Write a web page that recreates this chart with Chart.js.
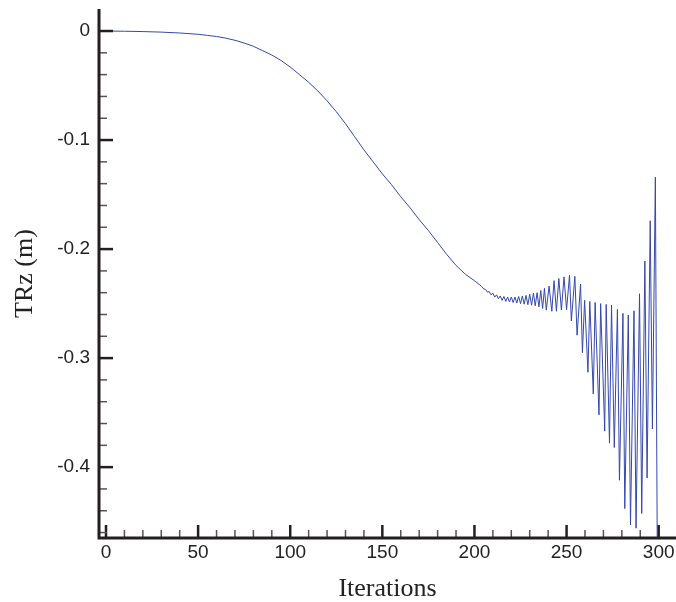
<!DOCTYPE html>
<html>
<head>
<meta charset="utf-8">
<script src="https://cdn.jsdelivr.net/npm/chart.js@4.4.1/dist/chart.umd.min.js"></script>
<style>
  html, body { margin: 0; padding: 0; background: #fff; }
  #wrap { width: 676px; height: 602px; position: relative; }
</style>
</head>
<body>
<div id="wrap"><canvas id="myChart"></canvas></div>
<script>
// vertices of the TRz history (iteration, value in m)
var iterations = [
  0, 10, 20, 30, 40, 50, 55, 60, 65, 70, 75, 80, 85, 90, 95, 100, 105, 110, 115, 120,
  125, 130, 135, 140, 145, 150, 155, 160, 165, 170, 175, 180, 185, 190, 195, 200, 203,
  204, 205, 206, 207, 208, 209, 210, 211, 212, 213, 214, 215, 216, 217, 218, 219, 220,
  221, 222, 223, 224, 225, 226, 227, 228, 229, 230, 231, 232, 233, 234, 235, 236, 237,
  238, 239, 240.5, 242, 243.2, 244.5, 245.8, 247.2, 248.6, 250, 251.6,
  252.6, 254.5, 255.7, 257.6, 258.6, 259.8, 261.6, 262.6, 264.5, 265.5, 267.6, 268.5,
  270.7, 271.5, 273.3, 274.4, 275.9, 277.6, 278.7, 280.6, 281.6, 283.5, 284.7, 286.6,
  287.7, 289.6, 290.8, 292.5, 293.7, 295.4, 296.6, 298.2, 299.3
];
var trz = [
  0, -0.0002, -0.0005, -0.001, -0.0018, -0.003, -0.004, -0.005, -0.0065, -0.0085, -0.011,
  -0.014, -0.018, -0.022, -0.027, -0.033, -0.040, -0.047, -0.055, -0.064,
  -0.074, -0.085, -0.097, -0.109, -0.120, -0.131, -0.141, -0.152, -0.162, -0.173, -0.183,
  -0.194, -0.205, -0.215, -0.223, -0.229, -0.233,
  -0.2345, -0.2365, -0.2370, -0.2395, -0.2390, -0.2420, -0.2405, -0.2440, -0.2420, -0.2455,
  -0.2430, -0.2470, -0.2435, -0.2480, -0.2440, -0.2485, -0.2440, -0.2490, -0.2440, -0.2495,
  -0.2435, -0.2500, -0.2430, -0.2505, -0.2425, -0.2510, -0.2415, -0.2515, -0.2405, -0.2520,
  -0.2400, -0.2530, -0.2380, -0.2545, -0.2360, -0.2560, -0.234, -0.257, -0.229, -0.257,
  -0.227, -0.256, -0.2255, -0.2555, -0.224,
  -0.266, -0.225, -0.279, -0.232, -0.295, -0.247, -0.313, -0.248, -0.333, -0.249, -0.352,
  -0.250, -0.367, -0.2507, -0.378, -0.2514, -0.382, -0.2553, -0.412, -0.259, -0.438,
  -0.2605, -0.453, -0.2566, -0.456, -0.241, -0.4425, -0.211, -0.410, -0.174, -0.365,
  -0.134, -0.50
];

var xMajorTicks = [0, 50, 100, 150, 200, 250, 300];
var xMinorTicks = [10, 20, 30, 40, 60, 70, 80, 90, 110, 120, 130, 140, 160, 170, 180, 190,
  210, 220, 230, 240, 260, 270, 280, 290];
var yMajorTicks = [0, -0.1, -0.2, -0.3, -0.4];
var yMinorTicks = [-0.02, -0.04, -0.06, -0.08, -0.12, -0.14, -0.16, -0.18, -0.22, -0.24,
  -0.26, -0.28, -0.32, -0.34, -0.36, -0.38, -0.42, -0.44, -0.46];

var axisColor = '#231f20';

// axes drawn by hand: thick frame lines with ticks pointing into the plot
var axisPlugin = {
  id: 'axisPlugin',
  afterDraw: function(chart) {
    var c = chart.ctx, a = chart.chartArea;
    var xs = chart.scales.x, ys = chart.scales.y;
    c.save();
    c.lineCap = 'butt';
    xMinorTicks.forEach(function(v) {
      var px = xs.getPixelForValue(v);
      c.lineWidth = 1.5; c.strokeStyle = '#555';
      c.beginPath(); c.moveTo(px, a.bottom); c.lineTo(px, a.bottom - 8); c.stroke();
    });
    xMajorTicks.forEach(function(v) {
      var px = xs.getPixelForValue(v);
      c.lineWidth = 2.5; c.strokeStyle = axisColor;
      c.beginPath(); c.moveTo(px, a.bottom); c.lineTo(px, a.bottom - 13); c.stroke();
    });
    yMinorTicks.forEach(function(v) {
      var py = ys.getPixelForValue(v);
      c.lineWidth = 1.5; c.strokeStyle = '#555';
      c.beginPath(); c.moveTo(a.left, py); c.lineTo(a.left + 8, py); c.stroke();
    });
    yMajorTicks.forEach(function(v) {
      var py = ys.getPixelForValue(v);
      c.lineWidth = 2.5; c.strokeStyle = axisColor;
      c.beginPath(); c.moveTo(a.left, py); c.lineTo(a.left + 14, py); c.stroke();
    });
    // frame lines
    c.lineWidth = 3; c.strokeStyle = axisColor;
    c.beginPath();
    c.moveTo(a.left, a.top);
    c.lineTo(a.left, a.bottom);
    c.lineTo(a.right, a.bottom);
    c.stroke();
    c.restore();
  }
};

function noPad(s) {
  s.paddingTop = 0; s.paddingBottom = 0; s.paddingLeft = 0; s.paddingRight = 0;
}

var ctx = document.getElementById('myChart').getContext('2d');
var chart = new Chart(ctx, {
  type: 'line',
  data: {
    datasets: [{
      label: 'TRz',
      data: iterations.map(function(x, i) { return { x: x, y: trz[i] }; }),
      borderColor: 'rgb(52, 72, 172)',
      borderWidth: 1,
      pointRadius: 0,
      tension: 0,
      fill: false
    }]
  },
  options: {
    responsive: true,
    maintainAspectRatio: false,
    animation: false,
    layout: { padding: { top: 9, left: 0, right: 0, bottom: 0 } },
    plugins: { legend: { display: false }, tooltip: { enabled: false } },
    scales: {
      x: {
        type: 'linear',
        min: -3.8,
        max: 309.4,
        border: { display: false },
        grid: { display: false, drawTicks: false },
        afterBuildTicks: function(s) { s.ticks = xMajorTicks.map(function(v) { return { value: v }; }); },
        afterFit: function(s) { s.height = 64; noPad(s); },
        ticks: {
          autoSkip: false, maxRotation: 0, padding: 3,
          color: '#222',
          font: { family: 'Liberation Sans, Arial, sans-serif', size: 19 },
          callback: function(v) { return String(v); }
        },
        title: {
          display: true, text: 'Iterations', color: '#222',
          padding: { top: 0, bottom: 0 },
          font: { family: 'Liberation Serif, Times New Roman, serif', size: 26, lineHeight: 1 }
        }
      },
      y: {
        type: 'linear',
        min: -0.465,
        max: 0.0202,
        border: { display: false },
        grid: { display: false, drawTicks: false },
        afterBuildTicks: function(s) { s.ticks = yMajorTicks.map(function(v) { return { value: v }; }); },
        afterFit: function(s) { s.width = 99; noPad(s); },
        ticks: {
          autoSkip: false, padding: 9,
          color: '#222',
          font: { family: 'Liberation Sans, Arial, sans-serif', size: 19 },
          callback: function(v) { return String(v); }
        },
        title: {
          display: true, text: 'TRz (m)', color: '#222',
          padding: { top: 12, bottom: 0 },
          font: { family: 'Liberation Serif, Times New Roman, serif', size: 26, lineHeight: 1 }
        }
      }
    }
  },
  plugins: [axisPlugin]
});
</script>
</body>
</html>
